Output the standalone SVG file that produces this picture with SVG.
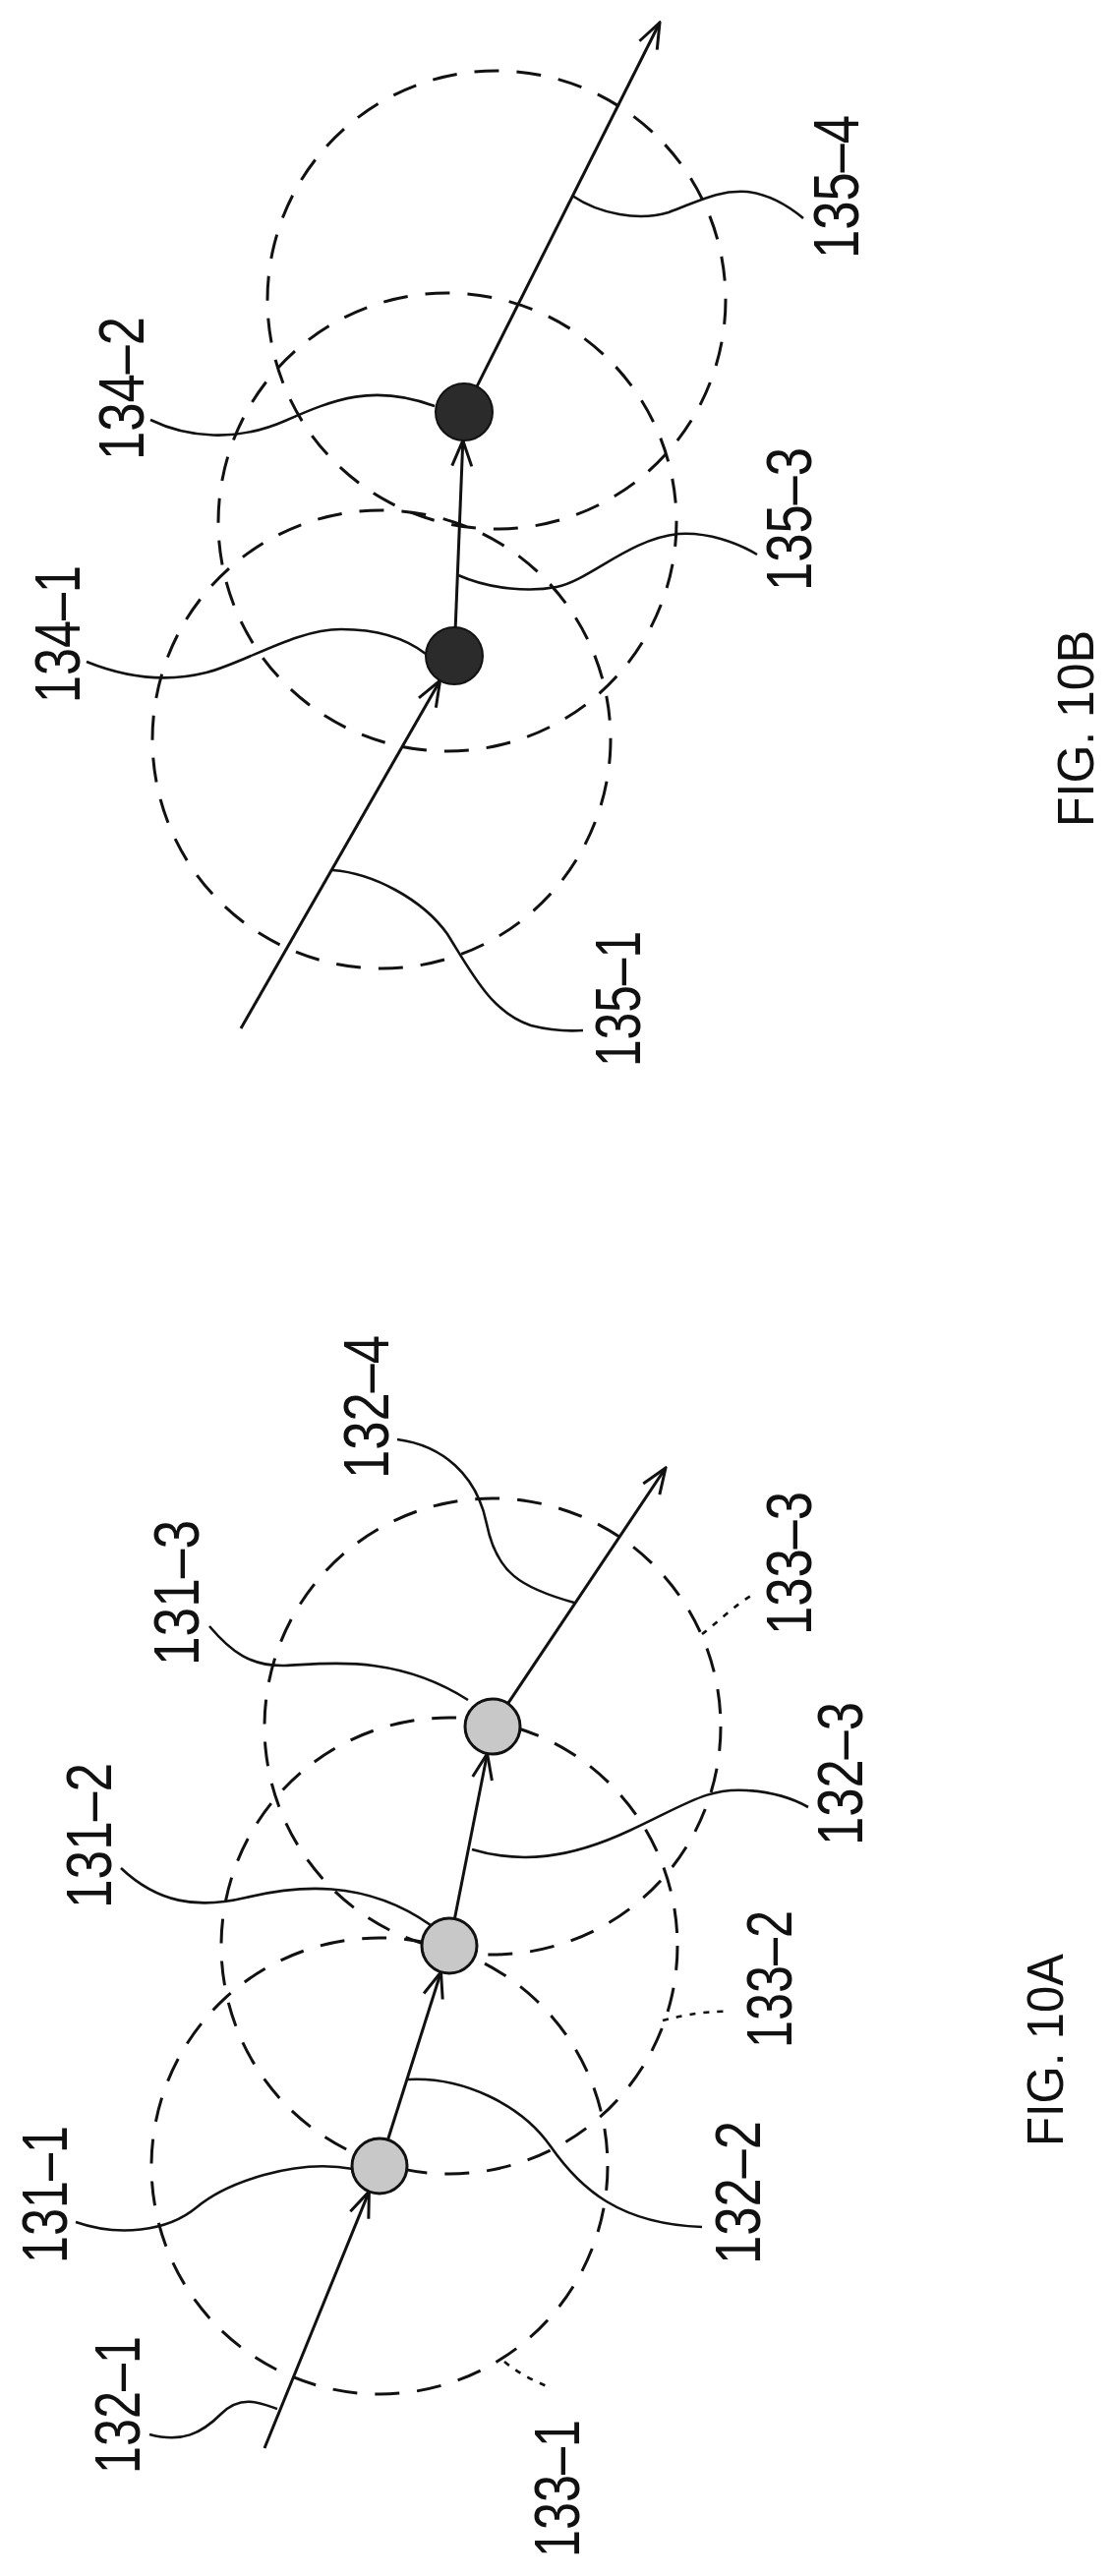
<svg xmlns="http://www.w3.org/2000/svg" width="1132" height="2620" viewBox="0 0 1132 2620">
<style>
.bg{fill:#fff}
.zone{fill:none;stroke:#111;stroke-width:3;stroke-dasharray:25 18}
.trk{fill:none;stroke:#111;stroke-width:3}
.ld{fill:none;stroke:#111;stroke-width:2.6}
.dot{fill:none;stroke:#111;stroke-width:2.6;stroke-dasharray:6 8}
.pa{fill:#c8c8c8;stroke:#111;stroke-width:3}
.pb{fill:#2b2b2b;stroke:#111;stroke-width:2}
.lb{font-family:"Liberation Sans",Arial,sans-serif;font-size:64px;fill:#111}
.fg{font-family:"Liberation Sans",Arial,sans-serif;font-size:52px;fill:#111}
</style>
<defs>
<marker id="ah" viewBox="-30 -12 32 24" refX="0" refY="0" markerWidth="32" markerHeight="24" markerUnits="userSpaceOnUse" orient="auto">
<path d="M-26,-10 L0,0 L-26,10" fill="none" stroke="#111" stroke-width="3"/>
</marker>
</defs>
<rect class="bg" x="0" y="0" width="1132" height="2620"/>

<g id="fig10A">
<g id="zones-10A">
<circle class="zone" cx="386" cy="2203" r="232"/>
<circle class="zone" cx="457" cy="1979" r="232"/>
<circle class="zone" cx="501" cy="1756" r="232"/>
</g>
<g id="connectors-10A">
<line class="trk" x1="269" y1="2490" x2="375.4" y2="2228.9" marker-end="url(#ah)"/>
<line class="trk" x1="394.5" y1="2176.3" x2="448.5" y2="2005.7" marker-end="url(#ah)"/>
<line class="trk" x1="462.4" y1="1951.5" x2="495.6" y2="1783.5" marker-end="url(#ah)"/>
<line class="trk" x1="516.6" y1="1732.7" x2="677" y2="1493" marker-end="url(#ah)"/>
<path class="ld" d="M77,2260 C120,2275 170,2270 200,2245 S300,2195 359,2206"/>
<path class="ld" d="M152,2476 C185,2485 205,2475 225,2455 S265,2444 282,2450"/>
<path class="ld" d="M123,1900 C160,1935 200,1942 250,1930 S370,1910 438,1958"/>
<path class="ld" d="M213,1654 C235,1680 255,1695 290,1694 S400,1680 476,1729"/>
<path class="ld" d="M404,1464 C450,1470 485,1500 495,1550 S530,1615 584,1630"/>
<path class="ld" d="M415,2115 C470,2112 530,2140 560,2183 S630,2262 714,2265"/>
<path class="ld" d="M480,1881 C530,1896 580,1890 640,1862 S720,1818 760,1821 C790,1823 808,1830 822,1838"/>
<path class="dot" d="M513,2402 C530,2416 545,2422 556,2427"/>
<path class="dot" d="M674,2055 C700,2048 725,2045 743,2046"/>
<path class="dot" d="M714,1662 C730,1650 748,1632 764,1623"/>
</g>
<g id="n131-1"><circle class="pa" cx="386" cy="2203" r="28"/></g>
<g id="n131-2"><circle class="pa" cx="457" cy="1979" r="28"/></g>
<g id="n131-3"><circle class="pa" cx="501" cy="1756" r="28"/></g>
<g id="labels-10A">
<text class="lb" x="119" y="2446" dy="0.36em" text-anchor="middle" textLength="140" lengthAdjust="spacingAndGlyphs" transform="rotate(-90 119 2446)">132–1</text>
<text class="lb" x="45" y="2232" dy="0.36em" text-anchor="middle" textLength="140" lengthAdjust="spacingAndGlyphs" transform="rotate(-90 45 2232)">131–1</text>
<text class="lb" x="90" y="1867" dy="0.36em" text-anchor="middle" textLength="148" lengthAdjust="spacingAndGlyphs" transform="rotate(-90 90 1867)">131–2</text>
<text class="lb" x="179" y="1620" dy="0.36em" text-anchor="middle" textLength="148" lengthAdjust="spacingAndGlyphs" transform="rotate(-90 179 1620)">131–3</text>
<text class="lb" x="372" y="1431" dy="0.36em" text-anchor="middle" textLength="146" lengthAdjust="spacingAndGlyphs" transform="rotate(-90 372 1431)">132–4</text>
<text class="lb" x="854" y="1804" dy="0.36em" text-anchor="middle" textLength="146" lengthAdjust="spacingAndGlyphs" transform="rotate(-90 854 1804)">132–3</text>
<text class="lb" x="802" y="1590" dy="0.36em" text-anchor="middle" textLength="146" lengthAdjust="spacingAndGlyphs" transform="rotate(-90 802 1590)">133–3</text>
<text class="lb" x="750" y="2230" dy="0.36em" text-anchor="middle" textLength="146" lengthAdjust="spacingAndGlyphs" transform="rotate(-90 750 2230)">132–2</text>
<text class="lb" x="782" y="2013" dy="0.36em" text-anchor="middle" textLength="140" lengthAdjust="spacingAndGlyphs" transform="rotate(-90 782 2013)">133–2</text>
<text class="lb" x="566" y="2531" dy="0.36em" text-anchor="middle" textLength="140" lengthAdjust="spacingAndGlyphs" transform="rotate(-90 566 2531)">133–1</text>
<text class="fg" x="1062" y="2085" dy="0.36em" text-anchor="middle" textLength="196" lengthAdjust="spacingAndGlyphs" transform="rotate(-90 1062 2085)">FIG. 10A</text>
</g>
</g>

<g id="fig10B">
<g id="zones-10B">
<circle class="zone" cx="388" cy="752" r="233"/>
<circle class="zone" cx="455" cy="531" r="233"/>
<circle class="zone" cx="505" cy="305" r="233"/>
</g>
<g id="connectors-10B">
<line class="trk" x1="245" y1="1046" x2="447.6" y2="692.2" marker-end="url(#ah)"/>
<line class="trk" x1="463.2" y1="638" x2="470.8" y2="448" marker-end="url(#ah)"/>
<line class="trk" x1="485" y1="393.1" x2="671" y2="23" marker-end="url(#ah)"/>
<path class="ld" d="M153,427 C190,445 240,450 290,428 S380,390 442,413"/>
<path class="ld" d="M88,673 C130,690 170,694 210,684 S300,640 347,640 S420,655 433,665"/>
<path class="ld" d="M466,585 C500,600 540,602 566,597 C600,590 640,548 690,543 C720,541 750,552 770,564"/>
<path class="ld" d="M582,199 C610,218 650,225 680,216 C710,205 730,193 760,195 C785,198 805,212 817,222"/>
<path class="ld" d="M338,885 C380,888 430,915 455,950 C480,990 500,1030 540,1043 C560,1048 580,1049 593,1048"/>
</g>
<g id="n134-1"><circle class="pb" cx="462" cy="667" r="29"/></g>
<g id="n134-2"><circle class="pb" cx="472" cy="419" r="29"/></g>
<g id="labels-10B">
<text class="lb" x="123" y="395" dy="0.36em" text-anchor="middle" textLength="146" lengthAdjust="spacingAndGlyphs" transform="rotate(-90 123 395)">134–2</text>
<text class="lb" x="58" y="645" dy="0.36em" text-anchor="middle" textLength="140" lengthAdjust="spacingAndGlyphs" transform="rotate(-90 58 645)">134–1</text>
<text class="lb" x="802" y="528" dy="0.36em" text-anchor="middle" textLength="146" lengthAdjust="spacingAndGlyphs" transform="rotate(-90 802 528)">135–3</text>
<text class="lb" x="850" y="190" dy="0.36em" text-anchor="middle" textLength="146" lengthAdjust="spacingAndGlyphs" transform="rotate(-90 850 190)">135–4</text>
<text class="lb" x="628" y="1016" dy="0.36em" text-anchor="middle" textLength="138" lengthAdjust="spacingAndGlyphs" transform="rotate(-90 628 1016)">135–1</text>
<text class="fg" x="1093" y="741" dy="0.36em" text-anchor="middle" textLength="200" lengthAdjust="spacingAndGlyphs" transform="rotate(-90 1093 741)">FIG. 10B</text>
</g>
</g>
</svg>
